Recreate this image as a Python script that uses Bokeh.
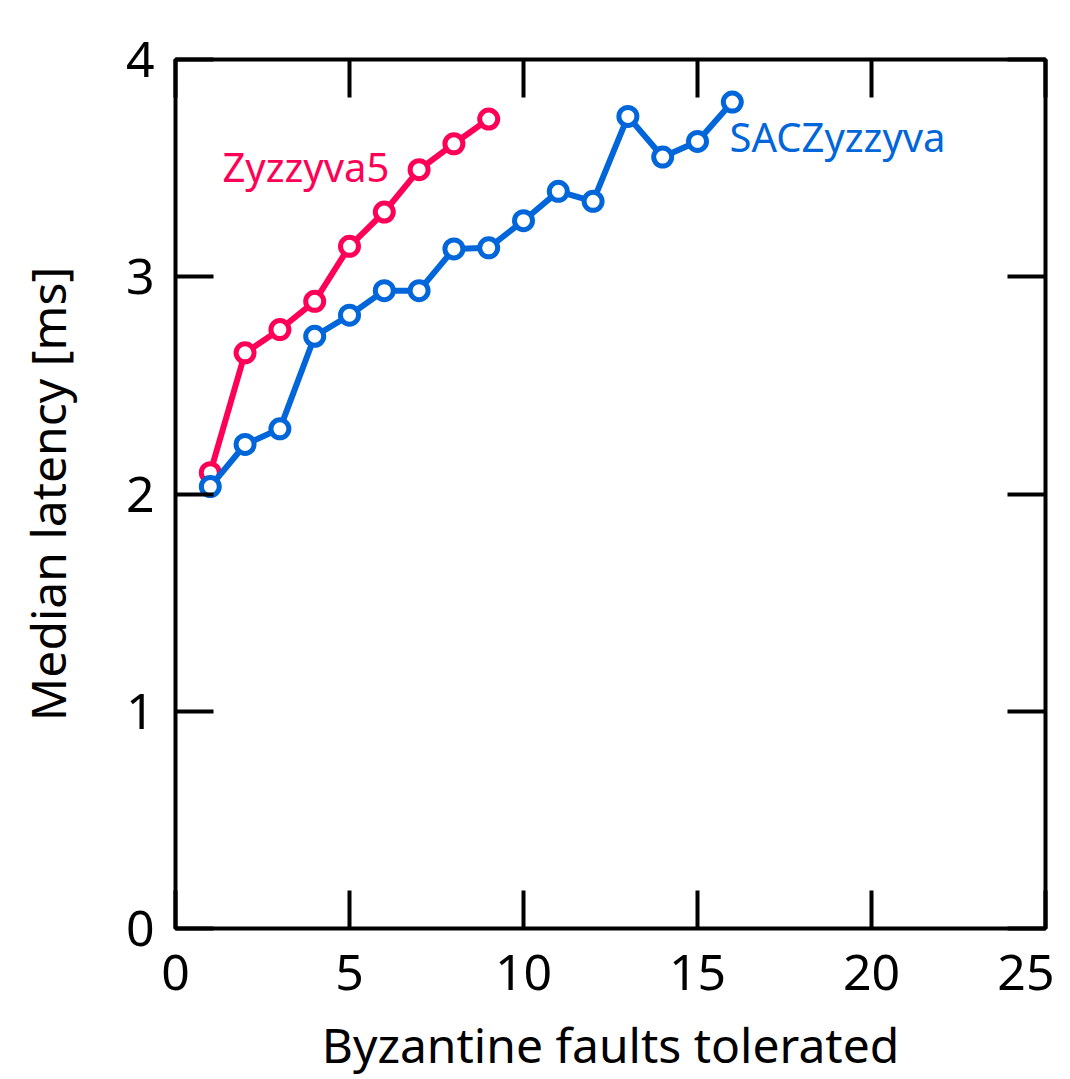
from bokeh.plotting import figure
from bokeh.models import LinearAxis, Range1d, FixedTicker, ColumnDataSource, Label
from bokeh.embed import file_html
from bokeh.resources import INLINE

faults_z5 = [1, 2, 3, 4, 5, 6, 7, 8, 9]
latency_z5 = [2.098, 2.650, 2.757, 2.887, 3.140, 3.298, 3.493, 3.612, 3.726]
faults_sac = [1, 2, 3, 4, 5, 6, 7, 8, 9, 10, 11, 12, 13, 14, 15, 16]
latency_sac = [2.034, 2.228, 2.300, 2.726, 2.823, 2.936, 2.936, 3.128, 3.133,
               3.258, 3.393, 3.347, 3.738, 3.551, 3.623, 3.804]
x_ticks = [0, 5, 10, 15, 20, 25]
y_ticks = [0, 1, 2, 3, 4]
x_title = "Byzantine faults tolerated"
y_title = "Median latency [ms]"

RED = "#ff0057"
BLUE = "#0066d9"
FONT = "Noto Sans"

p = figure(width=1054, height=1079, output_backend="svg", toolbar_location=None,
           x_range=Range1d(0, 25), y_range=Range1d(0, 4),
           min_border_left=175, min_border_right=9, min_border_top=59, min_border_bottom=151)
p.grid.visible = False
p.outline_line_color = "black"
p.outline_line_width = 4
p.background_fill_color = "white"
p.border_fill_color = "white"

def style(ax, labels=True):
    ax.axis_line_color = None
    ax.major_tick_in = 38
    ax.major_tick_out = 0
    ax.minor_tick_line_color = None
    ax.major_tick_line_width = 4
    ax.major_tick_line_color = "black"
    ax.major_label_text_font = FONT
    ax.major_label_text_font_size = "50px"
    ax.major_label_text_color = "black"
    ax.axis_label_text_font = FONT
    ax.axis_label_text_font_size = "48px"
    ax.axis_label_text_font_style = "normal"
    ax.axis_label_text_color = "black"
    if not labels:
        ax.major_label_text_font_size = "0px"
        ax.major_label_text_color = None

xa = p.xaxis[0]
ya = p.yaxis[0]
xa.ticker = FixedTicker(ticks=x_ticks)
ya.ticker = FixedTicker(ticks=y_ticks)
style(xa)
style(ya)
xa.axis_label = x_title
ya.axis_label = y_title
xa.major_label_standoff = 26
ya.major_label_standoff = 21
xa.axis_label_standoff = 19
ya.axis_label_standoff = 43

top = LinearAxis(ticker=FixedTicker(ticks=x_ticks))
right = LinearAxis(ticker=FixedTicker(ticks=y_ticks))
style(top, labels=False)
style(right, labels=False)
p.add_layout(top, "above")
p.add_layout(right, "right")

src_z5 = ColumnDataSource(dict(x=faults_z5, y=latency_z5))
src_sac = ColumnDataSource(dict(x=faults_sac, y=latency_sac))

p.line("x", "y", source=src_z5, line_color=RED, line_width=6)
p.scatter("x", "y", source=src_z5, marker="circle", size=18, fill_color="white",
          line_color=RED, line_width=5)
p.line("x", "y", source=src_sac, line_color=BLUE, line_width=6)
p.scatter("x", "y", source=src_sac, marker="circle", size=18, fill_color="white",
          line_color=BLUE, line_width=5)

p.add_layout(Label(x=1.35, y=3.508, text="Zyzzyva5", text_color=RED, text_font=FONT,
                   text_font_size="40px", text_baseline="alphabetic", text_align="left"))
p.add_layout(Label(x=15.92, y=3.646, text="SACZyzzyva", text_color=BLUE, text_font=FONT,
                   text_font_size="40px", text_baseline="alphabetic", text_align="left"))

open("out.html", "w").write(file_html(p, INLINE))
